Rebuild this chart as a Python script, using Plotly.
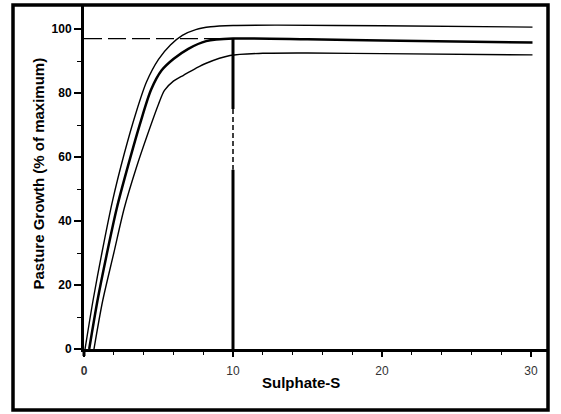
import plotly.graph_objects as go

# ---- data ----
upper_x = [0.07, 0.6, 1.2, 1.9, 2.7, 3.5, 4.2, 5.0, 5.8, 6.6, 7.5, 8.5, 10.0, 13.0, 20.0, 30.1]
upper_y = [0.0, 15.0, 30.0, 46.0, 61.0, 74.0, 83.5, 90.5, 95.0, 98.0, 99.8, 100.7, 101.1, 101.2, 101.0, 100.6]

mid_x = [0.35, 0.9, 1.5, 2.2, 3.0, 3.8, 4.5, 5.2, 6.0, 7.0, 8.2, 10.0, 15.0, 20.0, 30.1]
mid_y = [0.0, 15.0, 29.0, 44.0, 58.0, 71.0, 81.0, 87.0, 90.6, 93.8, 96.2, 97.0, 96.8, 96.4, 95.8]

low_x = [0.67, 1.25, 2.0, 2.7, 3.5, 4.3, 5.0, 5.4, 6.0, 6.7, 7.5, 8.2, 9.8, 12.0, 15.0, 20.0, 30.1]
low_y = [0.0, 15.0, 30.0, 44.0, 56.5, 67.5, 76.5, 80.8, 83.7, 85.6, 87.7, 89.3, 91.7, 92.4, 92.5, 92.3, 91.9]

ref_x = 10
ref_y = 97

x_tickvals = [0, 10, 20, 30]
x_ticktext = ["<b>0</b>", "10", "20", "30"]
y_tickvals = [0, 20, 40, 60, 80, 100]
y_ticktext = ["<b>0</b>", "<b>20</b>", "<b>40</b>", "<b>60</b>", "<b>80</b>", "<b>100</b>"]

fig = go.Figure()

for xs, ys, w in [(upper_x, upper_y, 1.4), (mid_x, mid_y, 2.5), (low_x, low_y, 1.4)]:
    fig.add_trace(go.Scatter(x=xs, y=ys, mode="lines", line=dict(color="black", width=w, shape="spline", smoothing=0.8),
                             showlegend=False, hoverinfo="skip"))

# dashed horizontal reference line at ref_y
fig.add_trace(go.Scatter(x=[0, ref_x], y=[ref_y, ref_y], mode="lines",
                         line=dict(color="black", width=1.3, dash="18px,6px"), showlegend=False, hoverinfo="skip"))
# vertical reference line at ref_x (thick solid, short dashed section, thick solid)
fig.add_trace(go.Scatter(x=[ref_x, ref_x], y=[ref_y, 75], mode="lines",
                         line=dict(color="black", width=3), showlegend=False, hoverinfo="skip"))
fig.add_trace(go.Scatter(x=[ref_x, ref_x], y=[75, 56], mode="lines",
                         line=dict(color="black", width=1.5, dash="5px,3px"), showlegend=False, hoverinfo="skip"))
fig.add_trace(go.Scatter(x=[ref_x, ref_x], y=[56, 0], mode="lines",
                         line=dict(color="black", width=3), showlegend=False, hoverinfo="skip"))

L, R, T, B = 84, 13, 5, 65
W, H = 561, 414
pw = W - L - R
ph = H - T - B

fig.update_layout(
    width=W, height=H,
    margin=dict(l=L, r=R, t=T, b=B),
    paper_bgcolor="white", plot_bgcolor="white",
    xaxis=dict(range=[0, pw / 14.9], showgrid=False, zeroline=False,
               showline=True, linecolor="black", linewidth=3,
               tickmode="array", tickvals=x_tickvals, ticktext=x_ticktext,
               ticks="outside", ticklen=5, tickwidth=1.5, tickcolor="black",
               ticklabelstandoff=4,
               tickfont=dict(family="Liberation Sans", size=12, color="#333"),
               minor=dict(dtick=2, tick0=0, ticks="outside", ticklen=3, tickwidth=1, tickcolor="black", showgrid=False)),
    yaxis=dict(range=[0, ph / 3.2], showgrid=False, zeroline=False,
               showline=True, linecolor="black", linewidth=3,
               tickmode="array", tickvals=y_tickvals, ticktext=y_ticktext,
               ticks="outside", ticklen=7, tickwidth=1.5, tickcolor="black",
               tickfont=dict(family="Liberation Sans", size=12, color="black"),
               minor=dict(dtick=10, tick0=0, ticks="outside", ticklen=4, tickwidth=1, tickcolor="black", showgrid=False)),
)

def px_x(p):
    return (p - L) / pw

def px_y(p):
    return (H - B - p) / ph

# outer frame
fig.add_shape(type="rect", xref="paper", yref="paper",
              x0=px_x(13), x1=px_x(548), y0=px_y(410), y1=px_y(5),
              line=dict(color="black", width=3.5), fillcolor="rgba(0,0,0,0)")
# y-axis extension below the x-axis
fig.add_shape(type="line", xref="paper", yref="paper",
              x0=0, x1=0, y0=0, y1=px_y(356), line=dict(color="black", width=3))

fig.add_annotation(text="<b>Pasture Growth (% of maximum)</b>", xref="paper", yref="paper",
                   x=px_x(27), y=px_y(174), textangle=-90, showarrow=False,
                   font=dict(family="Liberation Sans", size=15, color="black"))
fig.add_annotation(text="<b>Sulphate-S</b>", xref="paper", yref="paper",
                   x=px_x(301), y=px_y(393), showarrow=False,
                   font=dict(family="Liberation Sans", size=15, color="black"))

fig.write_html("out.html")
